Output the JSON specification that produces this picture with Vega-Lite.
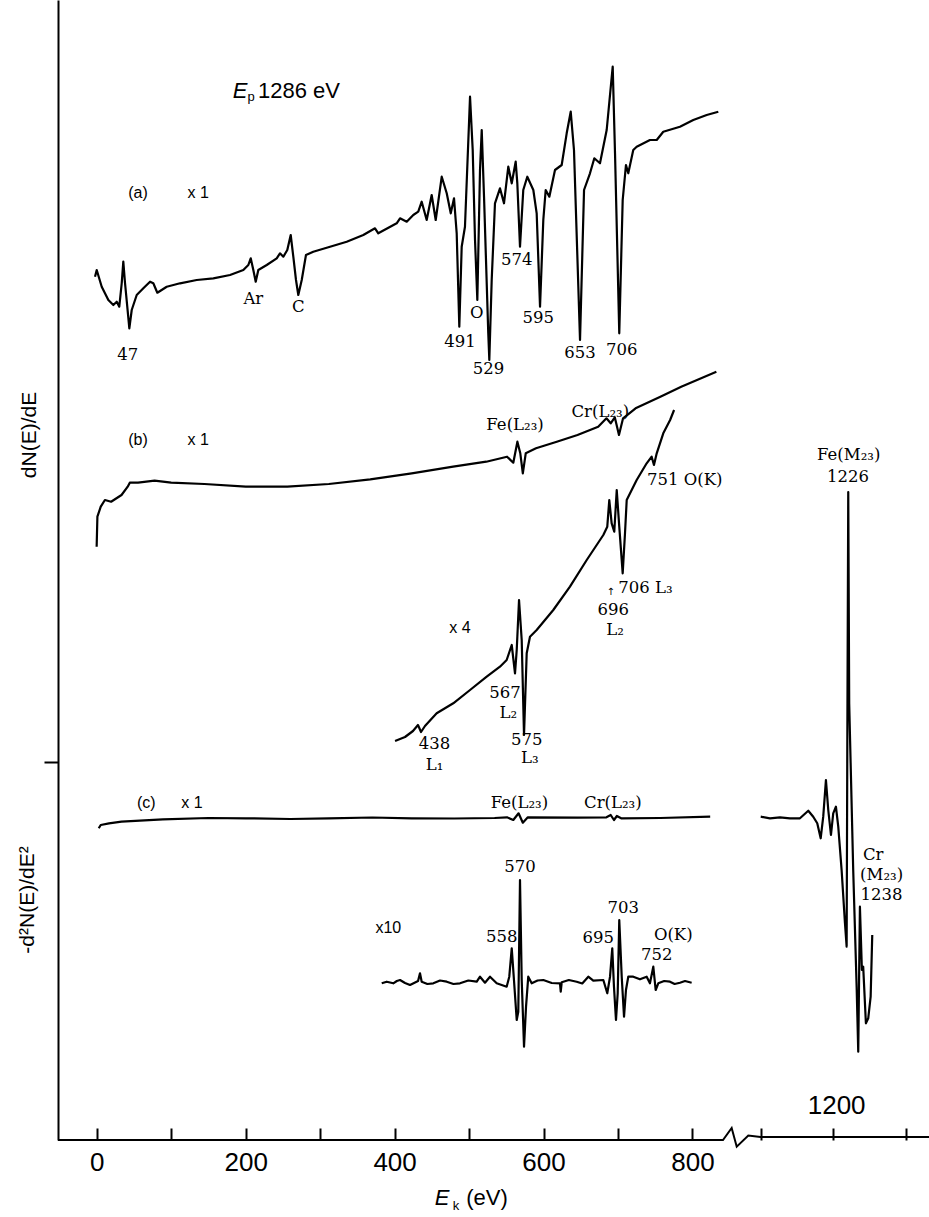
{
"$schema":"https://vega.github.io/schema/vega-lite/v6.json",
"width":871,"height":1140,
"autosize":{"type":"none"},
"padding":{"left":58,"top":0,"right":0,"bottom":77},
"background":"white",
"config":{"view":{"stroke":null}},
"datasets":{
"traces":[
{"s":"a","E":-2.3,"v":86.33},{"s":"a","E":0,"v":87.0},{"s":"a","E":6.7,"v":85.33},{"s":"a","E":15.6,"v":84.0},{"s":"a","E":22.3,"v":83.5},{"s":"a","E":26.9,"v":83.83},{"s":"a","E":30.3,"v":83.33},{"s":"a","E":33.6,"v":85.7},{"s":"a","E":35.7,"v":87.83},{"s":"a","E":38.0,"v":85.7},{"s":"a","E":43.8,"v":81.17},{"s":"a","E":47.0,"v":83.0},{"s":"a","E":53.7,"v":84.5},{"s":"a","E":62.6,"v":85.17},{"s":"a","E":71.6,"v":85.83},{"s":"a","E":76.0,"v":85.67},{"s":"a","E":81.4,"v":84.73},{"s":"a","E":94.0,"v":85.33},{"s":"a","E":111.9,"v":85.67},{"s":"a","E":134.3,"v":86.0},{"s":"a","E":156.6,"v":86.17},{"s":"a","E":179.0,"v":86.5},{"s":"a","E":196.9,"v":87.0},{"s":"a","E":203.6,"v":87.5},{"s":"a","E":206.8,"v":88.17},{"s":"a","E":210.3,"v":87.0},{"s":"a","E":213.5,"v":85.83},{"s":"a","E":217.0,"v":87.0},{"s":"a","E":228.3,"v":87.5},{"s":"a","E":241.7,"v":88.17},{"s":"a","E":246.1,"v":88.67},{"s":"a","E":250.6,"v":88.33},{"s":"a","E":255.9,"v":89.0},{"s":"a","E":260.5,"v":90.5},{"s":"a","E":264.0,"v":88.33},{"s":"a","E":267.6,"v":86.0},{"s":"a","E":270.7,"v":84.5},{"s":"a","E":275.3,"v":86.0},{"s":"a","E":281.0,"v":88.5},{"s":"a","E":290.8,"v":88.83},{"s":"a","E":313.3,"v":89.33},{"s":"a","E":335.7,"v":89.83},{"s":"a","E":358.0,"v":90.5},{"s":"a","E":373.7,"v":91.17},{"s":"a","E":378.1,"v":90.67},{"s":"a","E":402.8,"v":91.67},{"s":"a","E":407.3,"v":92.17},{"s":"a","E":416.3,"v":91.83},{"s":"a","E":425.1,"v":92.5},{"s":"a","E":431.8,"v":92.83},{"s":"a","E":436.4,"v":93.83},{"s":"a","E":443.1,"v":92.0},{"s":"a","E":449.8,"v":94.5},{"s":"a","E":455.2,"v":92.0},{"s":"a","E":463.3,"v":96.33},{"s":"a","E":470.0,"v":94.67},{"s":"a","E":475.4,"v":92.67},{"s":"a","E":479.8,"v":94.17},{"s":"a","E":483.4,"v":90.67},{"s":"a","E":486.9,"v":81.33},{"s":"a","E":490.1,"v":89.33},{"s":"a","E":494.5,"v":91.33},{"s":"a","E":501.3,"v":104.33},{"s":"a","E":504.9,"v":99.0},{"s":"a","E":508.0,"v":90.0},{"s":"a","E":511.1,"v":84.0},{"s":"a","E":514.7,"v":97.0},{"s":"a","E":517.0,"v":101.0},{"s":"a","E":520.1,"v":94.33},{"s":"a","E":525.8,"v":80.67},{"s":"a","E":527.2,"v":78.0},{"s":"a","E":530.4,"v":86.0},{"s":"a","E":534.8,"v":93.67},{"s":"a","E":541.5,"v":95.17},{"s":"a","E":546.9,"v":93.67},{"s":"a","E":552.7,"v":97.33},{"s":"a","E":557.3,"v":95.67},{"s":"a","E":562.6,"v":97.83},{"s":"a","E":564.8,"v":95.67},{"s":"a","E":568.4,"v":89.33},{"s":"a","E":572.8,"v":95.0},{"s":"a","E":578.2,"v":96.33},{"s":"a","E":586.3,"v":95.0},{"s":"a","E":590.8,"v":92.67},{"s":"a","E":595.3,"v":83.33},{"s":"a","E":599.7,"v":92.0},{"s":"a","E":602.9,"v":95.0},{"s":"a","E":607.8,"v":94.33},{"s":"a","E":615.4,"v":97.0},{"s":"a","E":624.4,"v":97.5},{"s":"a","E":631.1,"v":100.67},{"s":"a","E":636.5,"v":102.83},{"s":"a","E":640.9,"v":99.0},{"s":"a","E":649.0,"v":80.0},{"s":"a","E":654.4,"v":95.0},{"s":"a","E":662.4,"v":96.67},{"s":"a","E":668.2,"v":98.17},{"s":"a","E":675.8,"v":97.67},{"s":"a","E":684.8,"v":101.0},{"s":"a","E":692.9,"v":107.33},{"s":"a","E":696.0,"v":98.67},{"s":"a","E":701.7,"v":80.67},{"s":"a","E":706.3,"v":94.0},{"s":"a","E":710.7,"v":97.5},{"s":"a","E":713.8,"v":96.67},{"s":"a","E":720.5,"v":99.0},{"s":"a","E":725.1,"v":99.33},{"s":"a","E":742.9,"v":100.0},{"s":"a","E":752.0,"v":100.0},{"s":"a","E":760.8,"v":100.83},{"s":"a","E":783.2,"v":101.33},{"s":"a","E":801.1,"v":102.0},{"s":"a","E":819.1,"v":102.5},{"s":"a","E":834.7,"v":102.83},
{"s":"b","E":-0.1,"v":59.33},{"s":"b","E":0.9,"v":62.33},{"s":"b","E":5.4,"v":63.33},{"s":"b","E":11.0,"v":64.0},{"s":"b","E":19.3,"v":63.83},{"s":"b","E":33.3,"v":64.5},{"s":"b","E":41.6,"v":65.33},{"s":"b","E":44.4,"v":65.73},{"s":"b","E":55.5,"v":65.73},{"s":"b","E":77.7,"v":65.93},{"s":"b","E":100.0,"v":65.73},{"s":"b","E":144.6,"v":65.6},{"s":"b","E":200.2,"v":65.33},{"s":"b","E":255.9,"v":65.33},{"s":"b","E":311.7,"v":65.6},{"s":"b","E":367.3,"v":66.07},{"s":"b","E":423.0,"v":66.67},{"s":"b","E":478.6,"v":67.33},{"s":"b","E":523.1,"v":67.83},{"s":"b","E":551.0,"v":68.33},{"s":"b","E":559.4,"v":67.73},{"s":"b","E":564.9,"v":69.83},{"s":"b","E":568.8,"v":68.67},{"s":"b","E":572.2,"v":66.67},{"s":"b","E":576.1,"v":68.67},{"s":"b","E":589.9,"v":69.17},{"s":"b","E":617.8,"v":69.83},{"s":"b","E":645.6,"v":70.5},{"s":"b","E":673.4,"v":71.33},{"s":"b","E":684.5,"v":72.17},{"s":"b","E":690.2,"v":71.67},{"s":"b","E":695.7,"v":72.27},{"s":"b","E":701.3,"v":70.5},{"s":"b","E":706.8,"v":72.17},{"s":"b","E":723.6,"v":73.17},{"s":"b","E":756.9,"v":74.33},{"s":"b","E":784.9,"v":75.33},{"s":"b","E":832.1,"v":76.83},
{"s":"b4","E":400.6,"v":39.9},{"s":"b4","E":414.0,"v":40.3},{"s":"b4","E":424.7,"v":40.9},{"s":"b4","E":431.4,"v":41.5},{"s":"b4","E":435.5,"v":40.8},{"s":"b4","E":440.8,"v":41.4},{"s":"b4","E":456.5,"v":42.67},{"s":"b4","E":478.8,"v":43.67},{"s":"b4","E":501.3,"v":45.0},{"s":"b4","E":523.7,"v":46.33},{"s":"b4","E":541.5,"v":47.33},{"s":"b4","E":550.5,"v":48.0},{"s":"b4","E":557.3,"v":49.5},{"s":"b4","E":561.7,"v":46.67},{"s":"b4","E":564.0,"v":49.0},{"s":"b4","E":567.1,"v":54.0},{"s":"b4","E":570.7,"v":50.0},{"s":"b4","E":573.8,"v":40.5},{"s":"b4","E":577.4,"v":48.67},{"s":"b4","E":581.8,"v":50.33},{"s":"b4","E":590.8,"v":51.0},{"s":"b4","E":613.1,"v":53.0},{"s":"b4","E":635.5,"v":55.33},{"s":"b4","E":658.0,"v":58.0},{"s":"b4","E":680.3,"v":60.5},{"s":"b4","E":685.6,"v":61.33},{"s":"b4","E":688.3,"v":64.0},{"s":"b4","E":691.5,"v":61.67},{"s":"b4","E":695.0,"v":60.83},{"s":"b4","E":698.3,"v":65.0},{"s":"b4","E":701.7,"v":61.33},{"s":"b4","E":706.3,"v":56.67},{"s":"b4","E":709.4,"v":60.67},{"s":"b4","E":711.7,"v":64.0},{"s":"b4","E":725.1,"v":66.0},{"s":"b4","E":738.5,"v":67.67},{"s":"b4","E":745.2,"v":68.33},{"s":"b4","E":748.3,"v":67.5},{"s":"b4","E":752.0,"v":68.67},{"s":"b4","E":760.8,"v":70.67},{"s":"b4","E":770.0,"v":72.0},{"s":"b4","E":775.3,"v":73.0},
{"s":"c","E":2.7,"v":31.17},{"s":"c","E":5.4,"v":31.5},{"s":"c","E":16.5,"v":31.67},{"s":"c","E":33.3,"v":31.83},{"s":"c","E":88.9,"v":32.07},{"s":"c","E":150,"v":32.2},{"s":"c","E":200.2,"v":32.17},{"s":"c","E":260,"v":32.1},{"s":"c","E":311.7,"v":32.17},{"s":"c","E":370,"v":32.25},{"s":"c","E":423.0,"v":32.17},{"s":"c","E":480,"v":32.15},{"s":"c","E":534.3,"v":32.2},{"s":"c","E":551.0,"v":32.27},{"s":"c","E":559.4,"v":32.0},{"s":"c","E":566.5,"v":32.67},{"s":"c","E":572.2,"v":31.73},{"s":"c","E":578.9,"v":32.27},{"s":"c","E":645.6,"v":32.23},{"s":"c","E":684.5,"v":32.27},{"s":"c","E":690.2,"v":32.5},{"s":"c","E":694.6,"v":32.0},{"s":"c","E":698.5,"v":32.4},{"s":"c","E":704.2,"v":32.17},{"s":"c","E":756.9,"v":32.2},{"s":"c","E":823.8,"v":32.33},
{"s":"cr","E":1100.3,"v":32.33},{"s":"cr","E":1113.0,"v":32.17},{"s":"cr","E":1126.7,"v":32.27},{"s":"cr","E":1140.4,"v":32.17},{"s":"cr","E":1154.1,"v":32.17},{"s":"cr","E":1165.5,"v":32.93},{"s":"cr","E":1172.3,"v":32.33},{"s":"cr","E":1177.8,"v":31.67},{"s":"cr","E":1182.5,"v":30.17},{"s":"cr","E":1186.0,"v":32.33},{"s":"cr","E":1189.7,"v":36.0},{"s":"cr","E":1192.9,"v":33.0},{"s":"cr","E":1196.6,"v":30.5},{"s":"cr","E":1199.7,"v":32.67},{"s":"cr","E":1203.4,"v":33.33},{"s":"cr","E":1206.6,"v":31.33},{"s":"cr","E":1211.2,"v":27.0},{"s":"cr","E":1215.8,"v":21.67},{"s":"cr","E":1218.1,"v":19.33},{"s":"cr","E":1218.9,"v":37.0},{"s":"cr","E":1220.3,"v":64.8},{"s":"cr","E":1221.6,"v":43.67},{"s":"cr","E":1227.1,"v":27.0},{"s":"cr","E":1231.8,"v":15.33},{"s":"cr","E":1234.0,"v":8.83},{"s":"cr","E":1236.3,"v":23.33},{"s":"cr","E":1239.0,"v":17.0},{"s":"cr","E":1240.8,"v":17.33},{"s":"cr","E":1244.5,"v":11.67},{"s":"cr","E":1247.7,"v":12.17},{"s":"cr","E":1251.0,"v":14.33},{"s":"cr","E":1253.2,"v":20.5},
{"s":"c10","E":382.7,"v":15.67},{"s":"c10","E":389.4,"v":15.83},{"s":"c10","E":398.3,"v":15.67},{"s":"c10","E":403.0,"v":15.9},{"s":"c10","E":407.3,"v":16.0},{"s":"c10","E":414.0,"v":15.7},{"s":"c10","E":420.7,"v":15.5},{"s":"c10","E":431.5,"v":15.9},{"s":"c10","E":434.1,"v":16.67},{"s":"c10","E":436.4,"v":15.83},{"s":"c10","E":444.0,"v":15.6},{"s":"c10","E":452.0,"v":15.67},{"s":"c10","E":461.0,"v":15.95},{"s":"c10","E":470.0,"v":15.83},{"s":"c10","E":479.0,"v":15.6},{"s":"c10","E":487.8,"v":15.67},{"s":"c10","E":499.0,"v":15.95},{"s":"c10","E":510.3,"v":15.83},{"s":"c10","E":514.7,"v":16.33},{"s":"c10","E":521.4,"v":15.73},{"s":"c10","E":528.1,"v":16.33},{"s":"c10","E":537.1,"v":15.67},{"s":"c10","E":550.5,"v":15.33},{"s":"c10","E":554.0,"v":16.33},{"s":"c10","E":557.3,"v":19.17},{"s":"c10","E":560.3,"v":16.0},{"s":"c10","E":564.0,"v":12.0},{"s":"c10","E":566.1,"v":12.83},{"s":"c10","E":568.4,"v":26.0},{"s":"c10","E":570.7,"v":16.0},{"s":"c10","E":573.8,"v":9.33},{"s":"c10","E":576.5,"v":13.33},{"s":"c10","E":579.5,"v":16.33},{"s":"c10","E":584.1,"v":15.67},{"s":"c10","E":592.0,"v":15.95},{"s":"c10","E":599.7,"v":16.0},{"s":"c10","E":611.0,"v":15.7},{"s":"c10","E":622.1,"v":15.67},{"s":"c10","E":623.1,"v":14.83},{"s":"c10","E":624.4,"v":15.77},{"s":"c10","E":634.0,"v":16.0},{"s":"c10","E":644.5,"v":15.83},{"s":"c10","E":652.0,"v":15.65},{"s":"c10","E":660.1,"v":16.33},{"s":"c10","E":666.8,"v":15.93},{"s":"c10","E":680.3,"v":16.0},{"s":"c10","E":685.6,"v":14.67},{"s":"c10","E":689.3,"v":16.33},{"s":"c10","E":692.3,"v":19.17},{"s":"c10","E":694.6,"v":15.33},{"s":"c10","E":697.3,"v":12.0},{"s":"c10","E":699.6,"v":14.67},{"s":"c10","E":701.7,"v":22.0},{"s":"c10","E":705.0,"v":16.33},{"s":"c10","E":708.1,"v":12.33},{"s":"c10","E":710.7,"v":15.0},{"s":"c10","E":713.8,"v":16.33},{"s":"c10","E":720.5,"v":16.33},{"s":"c10","E":729.5,"v":16.07},{"s":"c10","E":738.5,"v":16.33},{"s":"c10","E":742.9,"v":15.67},{"s":"c10","E":747.4,"v":17.33},{"s":"c10","E":750.6,"v":15.0},{"s":"c10","E":754.1,"v":15.67},{"s":"c10","E":762.0,"v":15.9},{"s":"c10","E":769.8,"v":15.83},{"s":"c10","E":776.0,"v":15.6},{"s":"c10","E":783.2,"v":15.73},{"s":"c10","E":790.0,"v":15.9},{"s":"c10","E":798.9,"v":15.73}
],
"baseline":[
{"E":-52,"v":0},{"E":841,"v":0},{"E":866,"v":1.2},{"E":907,"v":-0.67},{"E":1001,"v":0.45},{"E":1100,"v":0.3},{"E":1331,"v":0.3}
],
"serif":[
{"t":"47","E":41.6,"v":78.5},{"t":"Ar","E":210.3,"v":84.07},{"t":"C","E":270.7,"v":83.33},{"t":"491","E":487.8,"v":79.83},{"t":"O","E":510.3,"v":82.67},{"t":"529","E":526.0,"v":77.1},{"t":"574","E":564.0,"v":88.0},{"t":"595","E":593.0,"v":82.17},{"t":"653","E":649.0,"v":78.73},{"t":"706","E":705.0,"v":79.0},
{"t":"Fe(L₂₃)","E":561.7,"v":71.5},{"t":"Cr(L₂₃)","E":676.2,"v":72.83},
{"t":"696","E":693.7,"v":53.0},{"t":"L₂","E":696.0,"v":51.0},{"t":"567","E":548.3,"v":44.67},{"t":"L₂","E":552.7,"v":42.67},{"t":"575","E":577.4,"v":40.0},{"t":"L₃","E":581.6,"v":38.17},{"t":"438","E":453.6,"v":39.6},{"t":"L₁","E":453.6,"v":37.5},
{"t":"Fe(L₂₃)","E":567.7,"v":33.67},{"t":"Cr(L₂₃)","E":693.0,"v":33.67},
{"t":"570","E":568.4,"v":27.33},{"t":"558","E":543.8,"v":20.33},{"t":"695","E":673.5,"v":20.17},{"t":"703","E":707.1,"v":23.17},{"t":"O(K)","E":774.2,"v":20.5},{"t":"752","E":752.0,"v":18.5},
{"t":"Fe(M₂₃)","E":1220.9,"v":68.5},{"t":"1226","E":1219.9,"v":66.3},{"t":"Cr","E":1254.5,"v":28.5},{"t":"(M₂₃)","E":1266.0,"v":26.5},{"t":"1238","E":1266.0,"v":24.5}
],
"serifleft":[
{"t":"751 O(K)","E":739.0,"v":66.0},{"t":"706 L₃","E":700.4,"v":55.17}
],
"arrow":[{"t":"↑","E":690.2,"v":54.83}],
"sans":[
{"t":"(a)","E":55.5,"v":94.7},{"t":"x 1","E":136.2,"v":94.7},{"t":"(b)","E":55.5,"v":70.0},{"t":"x 1","E":136.2,"v":70.0},{"t":"(c)","E":66.6,"v":33.67},{"t":"x 1","E":128.0,"v":33.67},{"t":"x 4","E":487.8,"v":51.17},{"t":"x10","E":391.6,"v":21.17}
],
"big":[{"t":"1200","E":1204.4,"v":3.4}],
"ep":[{"t":"1286 eV","E":216.6,"v":104.9}],
"italic":[{"t":"E","E":192.4,"v":104.9},{"t":"E","E":463.7,"v":-5.8}],
"sub":[{"t":"p","E":207.2,"v":104.3},{"t":"k","E":482.5,"v":-6.6}],
"xtitle":[{"t":"(eV)","E":524.1,"v":-5.8}],
"ytitles":[{"t":"dN(E)/dE","E":-89.6,"v":70.5},{"t":"-d²N(E)/dE²","E":-92.3,"v":24.0}]
},
"encoding":{
"x":{"field":"E","type":"quantitative",
"scale":{"domain":[-52,850,1100,1331],"range":[0,671.7,702.5,871],"nice":false,"zero":false},
"axis":{"values":[0,100,200,300,400,500,600,700,800,1100,1200,1300],"format":"d","labelExpr":"indexof([0,200,400,600,800], datum.value) >= 0 ? datum.label : ''","domain":false,"grid":false,"tickSize":-12,"tickWidth":2,"tickColor":"black","labelPadding":21,"labelFont":"Liberation Sans","labelFontSize":26,"labelColor":"black","title":null,"labelFlush":false,"labelOverlap":false}},
"y":{"field":"v","type":"quantitative",
"scale":{"domain":[0,114],"nice":false,"zero":false},
"axis":{"values":[37.8],"labels":false,"tickSize":14,"tickWidth":2,"tickColor":"black","domainWidth":2,"domainColor":"black","grid":false,"title":null}}
},
"layer":[
{"data":{"name":"traces"},"mark":{"type":"line","color":"black","strokeJoin":"round"},
 "encoding":{"detail":{"field":"s","type":"nominal"},"order":{"value":null},
 "strokeWidth":{"field":"s","type":"nominal","scale":{"domain":["a","b","b4","c","cr","c10"],"range":[2.2,2.2,2.2,2,2.2,3]},"legend":null}}},
{"data":{"name":"baseline"},"mark":{"type":"line","color":"black","strokeWidth":2},"encoding":{"order":{"value":null}}},
{"data":{"name":"serif"},"mark":{"type":"text","font":"DejaVu Serif","fontSize":16.5,"align":"center","baseline":"middle","color":"black"},"encoding":{"text":{"field":"t"}}},
{"data":{"name":"serifleft"},"mark":{"type":"text","font":"DejaVu Serif","fontSize":16.5,"align":"left","baseline":"middle","color":"black"},"encoding":{"text":{"field":"t"}}},
{"data":{"name":"arrow"},"mark":{"type":"text","font":"DejaVu Sans","fontSize":10,"align":"center","baseline":"middle","color":"black"},"encoding":{"text":{"field":"t"}}},
{"data":{"name":"sans"},"mark":{"type":"text","font":"Liberation Sans","fontSize":16,"align":"center","baseline":"middle","color":"black"},"encoding":{"text":{"field":"t"}}},
{"data":{"name":"big"},"mark":{"type":"text","font":"Liberation Sans","fontSize":26,"align":"center","baseline":"middle","color":"black"},"encoding":{"text":{"field":"t"}}},
{"data":{"name":"ep"},"mark":{"type":"text","font":"Liberation Sans","fontSize":22,"align":"left","baseline":"middle","color":"black"},"encoding":{"text":{"field":"t"}}},
{"data":{"name":"italic"},"mark":{"type":"text","font":"Liberation Sans","fontStyle":"italic","fontSize":22,"align":"center","baseline":"middle","color":"black"},"encoding":{"text":{"field":"t"}}},
{"data":{"name":"sub"},"mark":{"type":"text","font":"Liberation Sans","fontSize":13,"align":"center","baseline":"middle","color":"black"},"encoding":{"text":{"field":"t"}}},
{"data":{"name":"xtitle"},"mark":{"type":"text","font":"Liberation Sans","fontSize":22,"align":"center","baseline":"middle","color":"black"},"encoding":{"text":{"field":"t"}}},
{"data":{"name":"ytitles"},"mark":{"type":"text","font":"Liberation Sans","fontSize":21,"angle":270,"align":"center","baseline":"middle","color":"black"},"encoding":{"text":{"field":"t"}}}
]
}
